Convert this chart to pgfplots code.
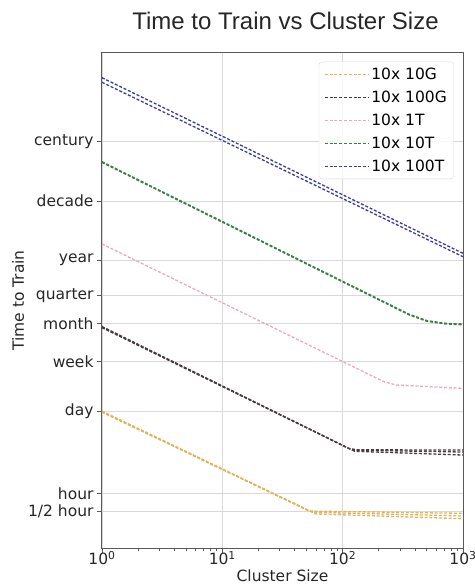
\documentclass[border=0pt]{standalone}
\usepackage{fontspec}
\setmainfont{DejaVu Sans}
\newfontfamily\titlefont{Liberation Sans}
\usepackage{pgfplots}
\pgfplotsset{compat=1.18}
\definecolor{cyel}{RGB}{225,180,90}
\definecolor{cblk}{RGB}{70,60,60}
\definecolor{cpnk}{RGB}{235,170,185}
\definecolor{cgrn}{RGB}{60,125,75}
\definecolor{cblu}{RGB}{60,60,155}
\newcommand\tfs{\fontsize{15.5bp}{18bp}\selectfont}
\begin{document}
\begin{tikzpicture}
\begin{axis}[
  scale only axis, width=361bp, height=495bp,
  xmode=log, ymode=log,
  xmin=1, xmax=1000, ymin=0.1189, ymax=2.78e7,
  xtick={1,10,100,1000},
  xticklabels={10\textsuperscript{0},10\textsuperscript{1},10\textsuperscript{2},10\textsuperscript{3}},
  minor xtick={2,3,4,5,6,7,8,9,20,30,40,50,60,70,80,90,200,300,400,500,600,700,800,900},
  ytick={0.5,1,24,168,730,2190,8760,87600,876000},
  yticklabels={1/2 hour,hour,day,week,month,quarter,year,decade,century},
  minor ytick={},
  tick pos=left, tick align=outside,
  major tick length=5bp, minor tick length=3bp,
  grid=major, major grid style={color=black!15, line width=0.9bp},
  axis line style={black!65, line width=1bp},
  every tick/.style={black!65, line width=0.9bp},
  ticklabel style={font=\tfs, text=black!85},
  xticklabel style={anchor=base, yshift=-12bp},
  title={Time to Train vs Cluster Size},
  title style={font=\titlefont\fontsize{24bp}{28bp}\selectfont, at={(axis description cs:0.5,1)}, anchor=base, yshift=18bp, xshift=3bp, text=black!85},
  xlabel={Cluster Size},
  xlabel style={font=\tfs, at={(axis description cs:0.5,0)}, anchor=base, yshift=-33bp, text=black!85},
  ylabel={Time to Train},
  ylabel style={font=\tfs, at={(axis description cs:0,0.5)}, anchor=base, yshift=78bp, text=black!85},
  legend style={at={(axis description cs:0.975,0.9824)}, anchor=north east, draw=black!15, rounded corners=3bp, fill=white, fill opacity=0.8, text opacity=1, draw opacity=1, font=\tfs, row sep=6bp, inner xsep=5bp, inner ysep=4bp},
  legend cell align=left,
  legend image code/.code={\path (0bp,0bp) -- (44bp,0bp);\draw[#1, line width=1.5bp] (0bp,0bp) -- (33bp,0bp);},
  every axis plot/.append style={line width=1.3bp, dash pattern=on 3bp off 1.8bp},
]
% legend-carrying lines
\addplot[cyel] coordinates {(1,23.99) (52.48,0.501) (1000,0.459)};
\addlegendentry{10x 10G}
\addplot[cblk] coordinates {(1,660.7) (112.2,5.754) (131.8,5.433) (1000,5.395)};
\addlegendentry{10x 100G}
\addplot[cpnk] coordinates {(1,16406) (223.9,75.86) (281.8,67.61) (1000,59.57)};
\addlegendentry{10x 1T}
\addplot[cgrn] coordinates {(1,403600) (354.8,1071.5) (501.2,831.8) (707.9,749.9) (1000,727.8)};
\addlegendentry{10x 10T}
\addplot[cblu] coordinates {(1,1.062e7) (1000,11403)};
\addlegendentry{10x 100T}
% companion lines
\addplot[cyel, forget plot] coordinates {(1,24.55) (56.23,0.479) (1000,0.413)};
\addplot[cyel, forget plot] coordinates {(1,23.44) (60.26,0.447) (1000,0.372)};
\addplot[cblk, forget plot] coordinates {(1,645.7) (120.2,5.370) (1000,4.989)};
\addplot[cblk, forget plot] coordinates {(1,631.0) (125.9,5.129) (1000,4.436)};
\addplot[cgrn, forget plot] coordinates {(1,392600) (354.8,1042) (501.2,809.1) (707.9,729.5) (1000,707.9)};
\addplot[cblu, forget plot] coordinates {(1,8.89e6) (1000,10000)};
\end{axis}
\pgfresetboundingbox
\path[use as bounding box] (-102bp,-37bp) rectangle (373bp,548bp);
\end{tikzpicture}
\end{document}
